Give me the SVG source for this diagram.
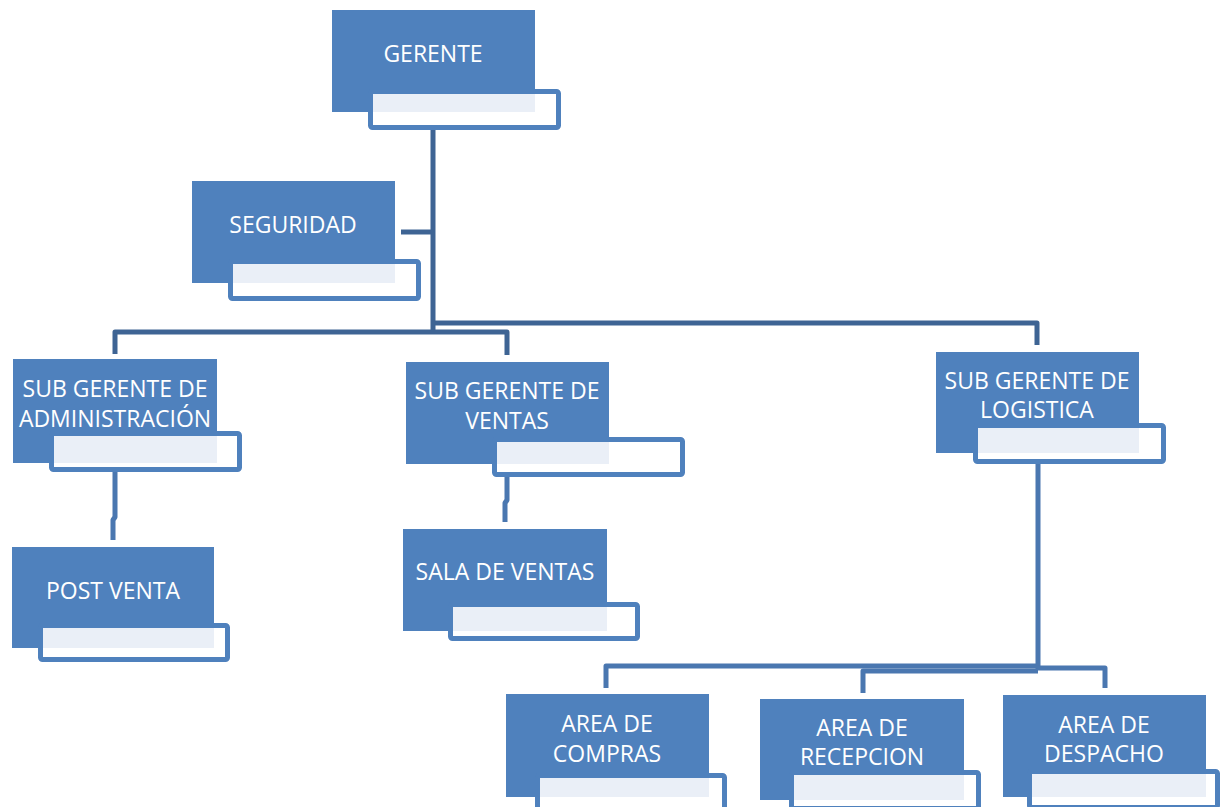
<svg xmlns="http://www.w3.org/2000/svg" width="1225" height="807" viewBox="0 0 1225 807">
<style>
.b{fill:#4F81BD}
.s{fill:#FFFFFF;stroke:#4F81BD;stroke-width:5}
.l{fill:#EAEFF7}
.t{font-family:"Open Sans","Liberation Sans",sans-serif;font-size:23px;fill:#FFFFFF;text-anchor:middle}
.c1{fill:none;stroke:#3E6494;stroke-width:5;stroke-linejoin:round}
.c2{fill:none;stroke:#4A77B0;stroke-width:5;stroke-linejoin:round}
</style>
<rect width="1225" height="807" fill="#FFFFFF"/>
<g id="connectors">
<path class="c1" d="M433,128 V333"/>
<path class="c1" d="M401,232 H433"/>
<path class="c1" d="M115,354 V332 H507 V355"/>
<path class="c1" d="M433,323 H1037 V345"/>
<path class="c2" d="M115,472 V517 L113,520 V540"/>
<path class="c2" d="M507,477 V500 L505,503 V522"/>
<path class="c2" d="M1038,462 V670"/>
<path class="c2" d="M606,688 V666 H1038"/>
<path class="c2" d="M863,693 V671 H1038"/>
<path class="c2" d="M1038,668 H1105 V688"/>
</g>
<g id="gerente">
<rect class="b" x="332" y="10" width="203" height="102"/>
<rect class="s" x="370.5" y="91.5" width="188" height="36" rx="2"/>
<rect class="l" x="373" y="94" width="162" height="18"/>
<text class="t" x="433" y="62">GERENTE</text>
</g>
<g id="seguridad">
<rect class="b" x="192" y="181" width="203" height="102"/>
<rect class="s" x="230.5" y="261.5" width="188" height="37" rx="2"/>
<rect class="l" x="233" y="264" width="162" height="19"/>
<text class="t" x="293" y="233">SEGURIDAD</text>
</g>
<g id="sub-admin">
<rect class="b" x="13" y="359" width="204" height="104"/>
<rect class="s" x="51.5" y="433.5" width="188" height="36" rx="2"/>
<rect class="l" x="54" y="436" width="163" height="27"/>
<text class="t" x="115" y="397">SUB GERENTE DE</text>
<text class="t" x="115" y="427">ADMINISTRACIÓN</text>
</g>
<g id="sub-ventas">
<rect class="b" x="406" y="362" width="203" height="102"/>
<rect class="s" x="494.5" y="439.5" width="188" height="35" rx="2"/>
<rect class="l" x="497" y="442" width="112" height="22"/>
<text class="t" x="507" y="399">SUB GERENTE DE</text>
<text class="t" x="507" y="429">VENTAS</text>
</g>
<g id="sub-logistica">
<rect class="b" x="936" y="352" width="203" height="101"/>
<rect class="s" x="975.5" y="425.5" width="188" height="36" rx="2"/>
<rect class="l" x="978" y="428" width="161" height="25"/>
<text class="t" x="1037" y="389">SUB GERENTE DE</text>
<text class="t" x="1037" y="418">LOGISTICA</text>
</g>
<g id="post-venta">
<rect class="b" x="12" y="547" width="202" height="101"/>
<rect class="s" x="40.5" y="625.5" width="187" height="34" rx="2"/>
<rect class="l" x="43" y="628" width="171" height="20"/>
<text class="t" x="113" y="599">POST VENTA</text>
</g>
<g id="sala-ventas">
<rect class="b" x="403" y="529" width="204" height="102"/>
<rect class="s" x="450.5" y="604.5" width="187" height="34" rx="2"/>
<rect class="l" x="453" y="607" width="154" height="24"/>
<text class="t" x="505" y="580">SALA DE VENTAS</text>
</g>
<g id="area-compras">
<rect class="b" x="506" y="694" width="203" height="103"/>
<rect class="s" x="537.5" y="775.5" width="187" height="36" rx="2"/>
<rect class="l" x="540" y="778" width="169" height="19"/>
<text class="t" x="607" y="732">AREA DE</text>
<text class="t" x="607" y="762">COMPRAS</text>
</g>
<g id="area-recepcion">
<rect class="b" x="760" y="699" width="204" height="101"/>
<rect class="s" x="791.5" y="772.5" width="187" height="36" rx="2"/>
<rect class="l" x="794" y="775" width="170" height="25"/>
<text class="t" x="862" y="736">AREA DE</text>
<text class="t" x="862" y="765">RECEPCION</text>
</g>
<g id="area-despacho">
<rect class="b" x="1003" y="695" width="203" height="102"/>
<rect class="s" x="1029.5" y="771.5" width="188" height="36" rx="2"/>
<rect class="l" x="1032" y="774" width="174" height="23"/>
<text class="t" x="1104" y="733">AREA DE</text>
<text class="t" x="1104" y="762">DESPACHO</text>
</g>
</svg>
